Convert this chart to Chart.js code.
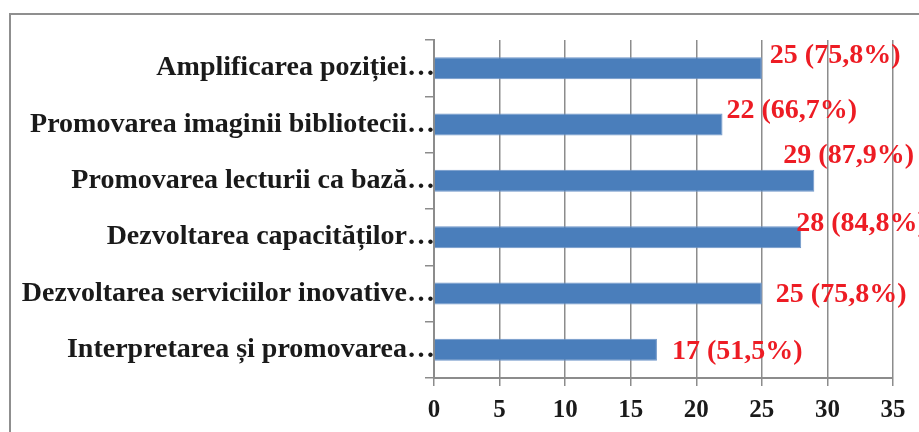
<!DOCTYPE html>
<html>
<head>
<meta charset="utf-8">
<script src="https://cdn.jsdelivr.net/npm/chart.js@4/dist/chart.umd.min.js"></script>
<style>
  html, body { margin: 0; padding: 0; background: #fff; }
  #wrap { width: 919px; height: 432px; position: relative; }
</style>
</head>
<body>
<div id="wrap"><canvas id="barChart" width="919" height="432"></canvas></div>
<script>
const categories = [
  "Amplificarea poziției…",
  "Promovarea imaginii bibliotecii…",
  "Promovarea lecturii ca bază…",
  "Dezvoltarea capacităților…",
  "Dezvoltarea serviciilor inovative…",
  "Interpretarea și promovarea…"
];
const counts = [25, 22, 29, 28, 25, 17];
const percents = ["75,8%", "66,7%", "87,9%", "84,8%", "75,8%", "51,5%"];
const xTicks = [0, 5, 10, 15, 20, 25, 30, 35];

const serif = "'Liberation Serif', 'Times New Roman', serif";

// labels were hand-placed in the original, so each one gets a nudge [dx, dy]
const labelNudges = [[8, -12], [4, -14], [-31, -25], [-5, -13], [14, 1], [15, 2]];

const frame = {
  id: "frame",
  beforeDraw(chart) {
    const c = chart.ctx;
    c.save();
    c.strokeStyle = "#8f8f8f";
    c.lineWidth = 2;
    c.strokeRect(10, 14, 2000, 2000);
    c.restore();
  }
};

const valueLabels = {
  id: "valueLabels",
  afterDatasetsDraw(chart) {
    const c = chart.ctx;
    const meta = chart.getDatasetMeta(0);
    c.save();
    c.font = "bold 28px " + serif;
    c.fillStyle = "#ED1C24";
    c.textAlign = "left";
    c.textBaseline = "middle";
    meta.data.forEach((bar, i) => {
      const n = labelNudges[i];
      c.fillText(counts[i] + " (" + percents[i] + ")", bar.x + n[0], bar.y + n[1]);
    });
    c.restore();
  }
};

const ctx = document.getElementById("barChart").getContext("2d");

new Chart(ctx, {
  type: "bar",
  data: {
    labels: categories,
    datasets: [{
      data: counts,
      backgroundColor: "#4A7EBB",
      borderColor: "#6F96C8",
      borderWidth: 1,
      barPercentage: 0.39,
      categoryPercentage: 1
    }]
  },
  options: {
    indexAxis: "y",
    responsive: false,
    animation: false,
    layout: { padding: { top: 40, right: 26, left: 0, bottom: 0 } },
    scales: {
      x: {
        min: 0,
        max: 35,
        afterBuildTicks: s => { s.ticks = xTicks.map(v => ({ value: v })); },
        afterFit: s => { s.height = 54; },
        grid: { color: "#8c8c8c", lineWidth: 1.5, tickLength: 8, drawTicks: true },
        border: { color: "#8c8c8c", width: 2 },
        ticks: {
          color: "#1a1a1a",
          padding: 10,
          font: { family: serif, size: 25, weight: "bold" }
        }
      },
      y: {
        afterFit: s => { s.width = 434; },
        grid: { drawOnChartArea: false, color: "#8c8c8c", lineWidth: 1.5, tickLength: 9, offset: true },
        border: { color: "#8c8c8c", width: 2 },
        ticks: {
          color: "#1a1a1a",
          padding: -10,
          autoSkip: false,
          font: { family: serif, size: 28, weight: "bold" }
        }
      }
    },
    plugins: {
      legend: { display: false },
      tooltip: { enabled: false }
    }
  },
  plugins: [frame, valueLabels]
});
</script>
</body>
</html>
